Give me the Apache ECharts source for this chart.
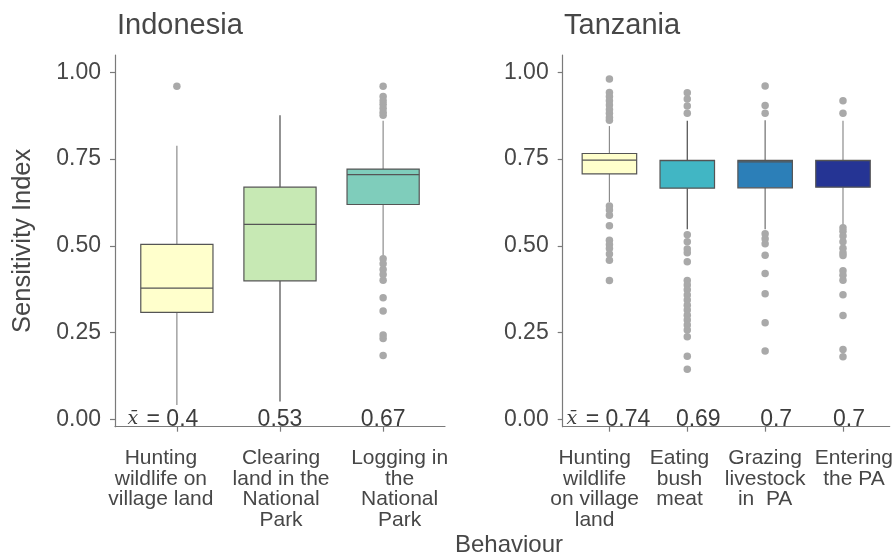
<!DOCTYPE html>
<html>
<head>
<meta charset="utf-8">
<script src="https://cdn.jsdelivr.net/npm/echarts@6/dist/echarts.min.js"></script>
<style>
  html, body { margin: 0; padding: 0; background: #fff; }
  #chart { width: 896px; height: 555px; }
</style>
</head>
<body>
<div id="chart"></div>
<script>
// Behaviour categories per country
const indoCats = ['Hunting\nwildlife on\nvillage land', 'Clearing\nland in the\nNational\nPark', 'Logging in\nthe\nNational\nPark'];
const tzCats = ['Hunting\nwildlife\non village\nland', 'Eating\nbush\nmeat', 'Grazing\nlivestock\nin  PA', 'Entering\nthe PA'];

// Box statistics: [lower whisker, Q1, median, Q3, upper whisker]
const indoBoxes = [
  [0.041, 0.308, 0.378, 0.504, 0.788],
  [0.051, 0.399, 0.562, 0.669, 0.876],
  [0.470, 0.619, 0.705, 0.721, 0.860]
];
const tzBoxes = [
  [0.626, 0.707, 0.747, 0.766, 0.845],
  [0.548, 0.666, 0.745, 0.746, 0.860],
  [0.548, 0.667, 0.742, 0.746, 0.862],
  [0.555, 0.669, 0.745, 0.746, 0.860]
];

// Outlying observations per behaviour
const indoOutliers = [
  [0.960],
  [],
  [0.960, 0.930, 0.918, 0.908, 0.896, 0.885, 0.876, 0.463, 0.448, 0.432, 0.417, 0.401, 0.350, 0.312, 0.243, 0.233, 0.184]
];
const tzOutliers = [
  [0.981, 0.942, 0.930, 0.918, 0.906, 0.893, 0.882, 0.870, 0.862, 0.615, 0.603, 0.588, 0.558, 0.516, 0.504, 0.492, 0.476, 0.458, 0.400],
  [0.941, 0.923, 0.903, 0.882, 0.532, 0.512, 0.491, 0.480, 0.454, 0.400, 0.387, 0.373, 0.358, 0.344, 0.329, 0.315, 0.300, 0.286, 0.272, 0.257, 0.238, 0.182, 0.144],
  [0.9605, 0.904, 0.882, 0.535, 0.520, 0.506, 0.473, 0.420, 0.362, 0.278, 0.197],
  [0.918, 0.882, 0.552, 0.542, 0.528, 0.512, 0.493, 0.480, 0.472, 0.428, 0.415, 0.401, 0.359, 0.299, 0.201, 0.180]
];

// Mean sensitivity per behaviour
const indoMeans = [0.4, 0.53, 0.67];
const tzMeans = [0.74, 0.69, 0.7, 0.7];

// Y axis tick values
const yTicks = [0, 0.25, 0.5, 0.75, 1];

// ---- styling ----
const FONT = "'Liberation Sans', Arial, Helvetica, sans-serif";
const SERIF = "'DejaVu Serif', 'Liberation Serif', serif";
const TEXT = '#474747';
const AXIS = '#7a7a7a';
const indoFills = ['#FFFFCC', '#C7E9B4', '#7FCDBB'];
const tzFills = ['#FFFFCC', '#41B6C4', '#2C7FB8', '#253494'];
const indoWhisk = ['#8c8c8c', '#4a4a4a', '#8c8c8c'];
const tzWhisk = ['#8c8c8c', '#4a4a4a', '#6e6e6e', '#8c8c8c'];
const indoMeanShift = [-14, 0, 0];          // px
const tzMeanShift = [-1, 11, 11, 6];        // px
const indoLabelShift = [-0.155, 0.01, 0.16]; // axis units
const tzLabelShift = [-0.19, -0.10, 0, 0.14]; // axis units
const CAT_SIZE = 21;
const CAT_LH = 20.7;

function boxRender(fills, whisk) {
  return function (params, api) {
    const x = api.value(0);
    const lo = api.coord([x, api.value(1)]);
    const q1 = api.coord([x, api.value(2)]);
    const md = api.coord([x, api.value(3)]);
    const q3 = api.coord([x, api.value(4)]);
    const hi = api.coord([x, api.value(5)]);
    const w = api.size([0.7, 0])[0];
    const i = params.dataIndex;
    const edge = '#555555';
    return {
      type: 'group',
      children: [
        { type: 'line', shape: { x1: lo[0], y1: lo[1], x2: q1[0], y2: q1[1] }, style: { stroke: whisk[i], lineWidth: 1.2 } },
        { type: 'line', shape: { x1: q3[0], y1: q3[1], x2: hi[0], y2: hi[1] }, style: { stroke: whisk[i], lineWidth: 1.2 } },
        { type: 'rect', shape: { x: q3[0] - w / 2, y: q3[1], width: w, height: q1[1] - q3[1] },
          style: { fill: fills[i], stroke: edge, lineWidth: 1.2 } },
        { type: 'line', shape: { x1: md[0] - w / 2, y1: md[1], x2: md[0] + w / 2, y2: md[1] },
          style: { stroke: edge, lineWidth: 1.2 } }
      ]
    };
  };
}

// Mean value printed along the zero line under each box
function meanRender(shifts) {
  return function (params, api) {
    const x = api.value(0);
    const p = api.coord([x, 0]);
    const i = params.dataIndex;
    const m = api.value(1);
    return {
      type: 'text',
      x: p[0] + shifts[i],
      y: p[1],
      style: {
        text: i === 0 ? '{xb|x\u0304} = ' + m : String(m),
        fill: '#3d3d3d',
        font: '23px ' + FONT,
        align: 'center',
        verticalAlign: 'middle',
        rich: {
          xb: { fontFamily: SERIF, fontStyle: 'italic', fontSize: 19, fill: '#3d3d3d', padding: [0, 2, 0, 0] }
        }
      }
    };
  };
}

function outlierData(list) {
  const out = [];
  list.forEach((vals, i) => vals.forEach(v => out.push([i + 1, v])));
  return out;
}

function xAxisFor(idx, cats, shifts) {
  const ticks = cats.map((c, i) => i + 1);
  const labelAt = ticks.map((t, i) => t + shifts[i]);
  return {
    type: 'value', gridIndex: idx, min: 0.4, max: cats.length + 0.6,
    splitLine: { show: false },
    axisLine: { show: true, onZero: false, lineStyle: { color: AXIS, width: 1.2 } },
    axisTick: { show: true, customValues: ticks, length: 5, lineStyle: { color: AXIS, width: 1.2 } },
    axisLabel: {
      customValues: labelAt, margin: 21, color: TEXT, fontFamily: FONT, fontSize: CAT_SIZE, lineHeight: CAT_LH,
      align: 'center', hideOverlap: false, showMinLabel: true, showMaxLabel: true,
      formatter: v => cats[Math.round(v) - 1] || ''
    }
  };
}

function yAxisFor(idx, withName) {
  return {
    type: 'value', gridIndex: idx, min: -0.0213, max: 1.0498,
    splitLine: { show: false },
    axisLine: { show: true, onZero: false, lineStyle: { color: AXIS, width: 1.2 } },
    axisTick: { show: true, customValues: yTicks, length: 5, lineStyle: { color: AXIS, width: 1.2 } },
    axisLabel: { customValues: yTicks, margin: 14, color: TEXT, fontFamily: FONT, fontSize: 23,
      showMinLabel: true, showMaxLabel: true, formatter: v => v.toFixed(2) },
    name: withName ? 'Sensitivity Index' : '',
    nameLocation: 'middle', nameRotate: 90, nameGap: 79,
    nameTextStyle: { color: TEXT, fontFamily: FONT, fontSize: 25.5 }
  };
}

function panelSeries(idx, boxes, fills, whisk, outliers, means, shifts) {
  return [
    {
      type: 'custom', xAxisIndex: idx, yAxisIndex: idx,
      renderItem: boxRender(fills, whisk),
      encode: { x: 0, y: [1, 2, 3, 4, 5] },
      data: boxes.map((b, i) => [i + 1].concat(b)),
      silent: true
    },
    {
      type: 'scatter', xAxisIndex: idx, yAxisIndex: idx,
      symbol: 'circle', symbolSize: 7.5,
      itemStyle: { color: '#a9a9a9', opacity: 1 },
      data: outlierData(outliers), silent: true
    },
    {
      type: 'custom', xAxisIndex: idx, yAxisIndex: idx,
      renderItem: meanRender(shifts),
      encode: { x: 0 },
      data: means.map((m, i) => [i + 1, m]),
      silent: true, clip: false
    }
  ];
}

const chart = echarts.init(document.getElementById('chart'), null, { renderer: 'canvas' });
chart.setOption({
  animation: false,
  backgroundColor: '#ffffff',
  textStyle: { fontFamily: FONT },
  title: [
    { text: 'Indonesia', left: 117, top: 11, padding: 0,
      textStyle: { color: TEXT, fontFamily: FONT, fontSize: 29, fontWeight: 'normal' } },
    { text: 'Tanzania', left: 564, top: 11, padding: 0,
      textStyle: { color: TEXT, fontFamily: FONT, fontSize: 29, fontWeight: 'normal' } }
  ],
  grid: [
    { left: 115, right: 451, top: 55, bottom: 128.3, containLabel: false },
    { left: 562.7, right: 2.3, top: 55, bottom: 128.3, containLabel: false }
  ],
  xAxis: [xAxisFor(0, indoCats, indoLabelShift), xAxisFor(1, tzCats, tzLabelShift)],
  yAxis: [yAxisFor(0, true), yAxisFor(1, false)],
  graphic: [
    { type: 'text', x: 509, y: 545, silent: true,
      style: { text: 'Behaviour', fill: TEXT, font: '24px ' + FONT, textAlign: 'center', textVerticalAlign: 'middle' } }
  ],
  series: [].concat(
    panelSeries(0, indoBoxes, indoFills, indoWhisk, indoOutliers, indoMeans, indoMeanShift),
    panelSeries(1, tzBoxes, tzFills, tzWhisk, tzOutliers, tzMeans, tzMeanShift)
  )
});
</script>
</body>
</html>
